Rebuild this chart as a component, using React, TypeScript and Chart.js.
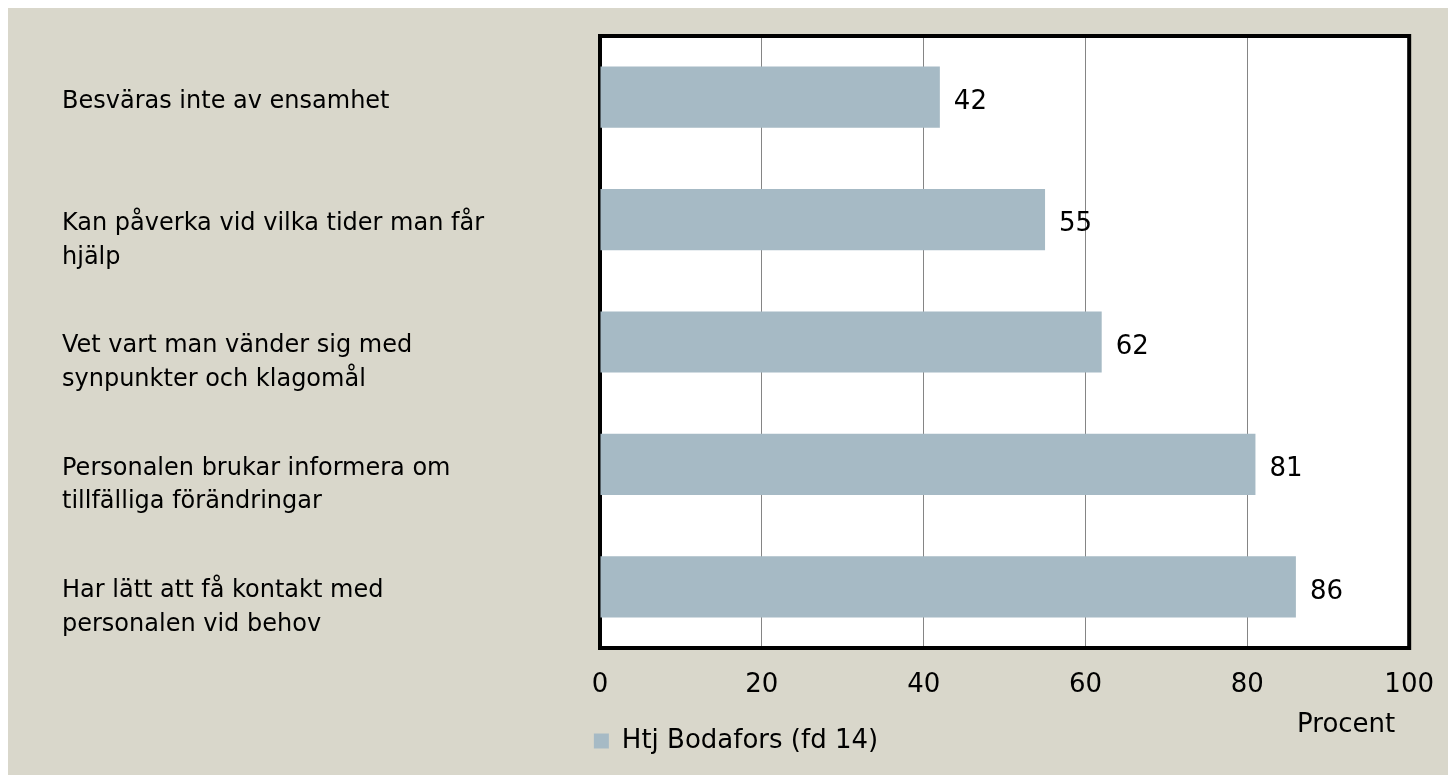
import React, { useEffect, useRef } from 'react';
import { Chart, registerables } from 'chart.js';

Chart.register(...registerables);

const categories: string[][] = [
  ['Besväras inte av ensamhet'],
  ['Kan påverka vid vilka tider man får', 'hjälp'],
  ['Vet vart man vänder sig med', 'synpunkter och klagomål'],
  ['Personalen brukar informera om', 'tillfälliga förändringar'],
  ['Har lätt att få kontakt med', 'personalen vid behov'],
];
const values = [42, 55, 62, 81, 86];
const seriesName = 'Htj Bodafors (fd 14)';
const axisTitle = 'Procent';
const xMin = 0;
const xMax = 100;
const xStep = 20;

const FONT = '"DejaVu Sans", sans-serif';
const BG = '#d9d7cb';
const BAR = '#a6bac5';
const GRID = '#858585';

const decorPlugin = {
  id: 'decor',
  beforeDraw(chart: any) {
    const { ctx, chartArea: a } = chart;
    ctx.save();
    ctx.fillStyle = BG;
    ctx.fillRect(0, 0, chart.width, chart.height);
    ctx.fillStyle = '#ffffff';
    ctx.fillRect(a.left, a.top, a.right - a.left, a.bottom - a.top);
    ctx.restore();
  },
  beforeDatasetsDraw(chart: any) {
    const { ctx, chartArea: a } = chart;
    ctx.save();
    ctx.strokeStyle = '#000000';
    ctx.lineWidth = 4;
    ctx.strokeRect(a.left, a.top, a.right - a.left, a.bottom - a.top);
    ctx.restore();
  },
  afterDatasetsDraw(chart: any) {
    const { ctx, chartArea: a } = chart;
    const meta = chart.getDatasetMeta(0);
    ctx.save();
    ctx.fillStyle = '#000000';
    ctx.font = `26px ${FONT}`;
    ctx.textAlign = 'left';
    ctx.textBaseline = 'middle';
    meta.data.forEach((bar: any, i: number) => {
      ctx.fillText(String(values[i]), bar.x + 14, bar.y + 5);
    });
    ctx.textAlign = 'center';
    ctx.textBaseline = 'alphabetic';
    ctx.fillText(axisTitle, a.right - 63, 724);
    ctx.restore();
  },
};

export default function App() {
  const ref = useRef<HTMLCanvasElement | null>(null);
  useEffect(() => {
    if (!ref.current) return;
    // single-line labels get an empty second line so all labels share the same two-line block
    const tickLabels = categories.map((c) => (c.length === 1 ? [c[0], ''] : c));
    const chart = new Chart(ref.current, {
      type: 'bar',
      data: {
        labels: tickLabels,
        datasets: [
          {
            label: seriesName,
            data: values,
            backgroundColor: BAR,
            borderWidth: 0,
            barPercentage: 0.5,
            categoryPercentage: 1.0,
          },
        ],
      },
      options: {
        indexAxis: 'y',
        responsive: false,
        animation: false,
        layout: { padding: { left: 54, right: 46, top: 28, bottom: 11 } },
        scales: {
          x: {
            min: xMin,
            max: xMax,
            ticks: {
              stepSize: xStep,
              color: '#000000',
              font: { family: FONT, size: 26 },
              padding: 22,
            },
            grid: { color: GRID, lineWidth: 1, drawTicks: false },
            border: { display: false },
            afterFit: (s: any) => {
              s.height = 70;
            },
          },
          y: {
            grid: { display: false },
            border: { display: false },
            ticks: {
              crossAlign: 'far',
              color: '#000000',
              font: { family: FONT, size: 24, lineHeight: 1.4 },
              labelOffset: 21,
            },
            afterFit: (s: any) => {
              s.width = 538;
              s.paddingTop = 0;
              s.paddingBottom = 0;
            },
          },
        },
        plugins: {
          legend: {
            position: 'bottom',
            labels: {
              boxWidth: 15,
              boxHeight: 15,
              color: '#000000',
              font: { family: FONT, size: 26 },
              padding: 10,
            },
          },
          tooltip: { enabled: false },
        },
      },
      plugins: [decorPlugin],
    } as any);
    return () => chart.destroy();
  }, []);
  return (
    <div style={{ width: 1448, height: 767 }}>
      <canvas ref={ref} width={1448} height={767} style={{ display: 'block' }} />
    </div>
  );
}
